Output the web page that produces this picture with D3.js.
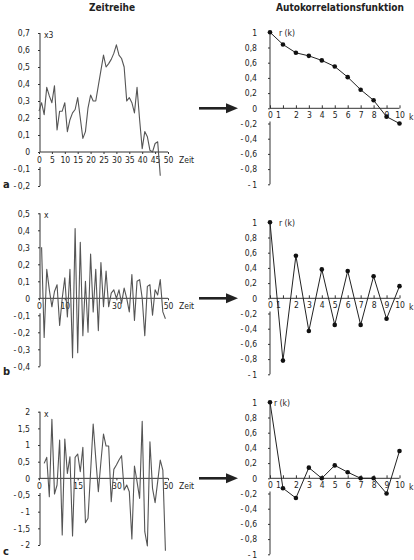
<!DOCTYPE html>
<html>
<head>
<meta charset="UTF-8">
<style>
  body { margin: 0; background: #fff; }
  svg text { font-family: "Liberation Sans Narrow", "DejaVu Sans Condensed", "Open Sans", sans-serif; fill: #222; }
</style>
</head>
<body>
<svg width="414" height="560"></svg>
<script src="https://d3js.org/d3.v7.min.js"></script>
<script>
// time series values
const seriesA = [0.24, 0.29, 0.22, 0.38, 0.33, 0.29, 0.39, 0.13, 0.24, 0.24,
  0.29, 0.12, 0.19, 0.23, 0.25, 0.32, 0.20, 0.08, 0.12, 0.26,
  0.335, 0.30, 0.30, 0.39, 0.48, 0.57, 0.50, 0.52, 0.545, 0.58,
  0.63, 0.57, 0.55, 0.50, 0.30, 0.32, 0.29, 0.23, 0.38, 0.19,
  0.02, 0.12, 0.09, 0.01, 0.00, 0.05, 0.06, -0.14];
const startA = 0;

const seriesB = [0.30, -0.23, 0.17, 0.05, -0.05, 0.04, 0.08, -0.16, 0.0, 0.12,
  -0.11, 0.17, -0.35, 0.41, -0.32, 0.33, -0.22, 0.10, -0.20, 0.26,
  -0.08, 0.17, -0.19, 0.21, -0.05, 0.16, -0.05, 0.03, 0.05, 0.0,
  0.05, -0.03, 0.06, 0.0, -0.08, 0.14, -0.13, 0.10, 0.11, 0.0,
  -0.22, 0.07, 0.08, -0.10, 0.05, 0.02, 0.11, -0.08, -0.12];
const startB = 1;

const seriesC = [0.45, 0.63, -0.55, 1.77, -0.47, -0.2, 1.15, -1.7, 1.18, 0.15,
  0.65, -1.73, 0.63, 0.73, 0.2, 0.93, -1.33, -1.2, 0.2, 1.63,
  0.6, -0.4, 0.5, 1.33, 0.97, 0.97, -0.7, 0.27, 0.4, 0.55,
  0.68, -0.35, -0.2, -0.4, -1.82, 0.37, -0.1, -0.6, 1.71, -1.6,
  -2.03, 1.1, -0.3, -0.73, -0.1, 0.55, 0.25, -2.17];
const startC = 2;

// autocorrelation r(k), k = 0..10
const lags = [0, 1, 2, 3, 4, 5, 6, 7, 8, 9, 10];
const acfA = [1, 0.84, 0.73, 0.69, 0.63, 0.55, 0.41, 0.245, 0.105, -0.11, -0.2];
const acfB = [1, -0.82, 0.56, -0.43, 0.38, -0.35, 0.36, -0.35, 0.29, -0.27, 0.16];
const acfC = [1, -0.13, -0.26, 0.14, 0, 0.17, 0.08, 0, 0, -0.2, 0.36];

// tick labels
const yTicksA = [-0.2, -0.1, 0, 0.1, 0.2, 0.3, 0.4, 0.5, 0.6, 0.7];
const yTicksB = [-0.4, -0.3, -0.2, -0.1, 0, 0.1, 0.2, 0.3, 0.4, 0.5];
const yTicksC = [-2, -1.5, -1, -0.5, 0, 0.5, 1, 1.5, 2];
const xTicksA = [0, 5, 10, 15, 20, 25, 30, 35, 40, 45, 50];
const xTicksB = [0, 10, 30, 50];
const xTicksC = [0, 15, 30, 50];
const acfTicks = [-1, -0.8, -0.6, -0.4, -0.2, 0, 0.2, 0.4, 0.6, 0.8, 1];

const svg = d3.select("svg");

const fmt = d => {
  let s = String(Math.round(Math.abs(d) * 10) / 10).replace(".", ",");
  return d < 0 ? "-\u2009" + s : s;
};

function styleAxis(a) {
  a.attr("font-family", null).attr("font-size", 8.5);
  a.selectAll("line").attr("stroke", "#333");
  a.select(".domain").remove();
}

function brokenY(g, x0, y, top, bottom, firstNeg) {
  g.append("line").attr("x1", x0).attr("x2", x0)
    .attr("y1", y(top)).attr("y2", y(0))
    .attr("stroke", "#333");
  g.append("line").attr("x1", x0).attr("x2", x0)
    .attr("y1", y(firstNeg) - 2).attr("y2", y(bottom))
    .attr("stroke", "#333");
}

function timePanel(values, start, dom, yTop, yBot, yTicks, xTicks, yLab) {
  const x = d3.scaleLinear().domain([0, 50]).range([39, 168]);
  const y = d3.scaleLinear().domain(dom).range([yBot, yTop]);
  const g = svg.append("g");

  g.append("g").attr("transform", "translate(40,0)")
    .call(d3.axisLeft(y).tickValues(yTicks).tickSize(2).tickPadding(8).tickFormat(fmt))
    .call(styleAxis);
  brokenY(g, 40, y, dom[1], dom[0], yTicks.filter(d => d < 0).slice(-1)[0]);

  g.append("g").attr("transform", "translate(0," + y(0) + ")")
    .call(d3.axisBottom(x).tickValues(xTicks).tickSize(2).tickPadding(3).tickFormat(d3.format("d")))
    .call(styleAxis);
  g.append("line").attr("x1", 40).attr("x2", x(50))
    .attr("y1", y(0)).attr("y2", y(0)).attr("stroke", "#333");

  g.append("path")
    .datum(values)
    .attr("fill", "none")
    .attr("stroke", "#555")
    .attr("stroke-width", 1.1)
    .attr("stroke-linejoin", "round")
    .attr("d", d3.line().x((d, i) => x(start + i)).y(d => y(d)));

  g.append("text").attr("x", 179).attr("y", y(0) + 11).attr("font-size", 8.5).text("Zeit");
  g.append("text").attr("x", 44).attr("y", yTop + 5).attr("font-size", 8.5).text(yLab);
}

function acfPanel(values, yTop, yBot, rx) {
  const x = d3.scaleLinear().domain([0, 10]).range([270, 399.5]);
  const y = d3.scaleLinear().domain([-1, 1]).range([yBot, yTop]);
  const g = svg.append("g");

  g.append("g").attr("transform", "translate(270,0)")
    .call(d3.axisLeft(y).tickValues(acfTicks).tickSize(2).tickPadding(11).tickFormat(fmt))
    .call(styleAxis);
  brokenY(g, 270, y, 1, -1, -0.2);

  g.append("g").attr("transform", "translate(0," + y(0) + ")")
    .call(d3.axisBottom(x).tickValues(lags).tickSizeInner(-3).tickSizeOuter(0).tickPadding(4))
    .call(styleAxis)
    .call(a => a.selectAll(".tick text").filter(d => d === 1).attr("dx", -5));
  g.append("line").attr("x1", 270).attr("x2", x(10))
    .attr("y1", y(0)).attr("y2", y(0)).attr("stroke", "#333");

  g.append("path")
    .datum(values)
    .attr("fill", "none")
    .attr("stroke", "#222")
    .attr("stroke-width", 1)
    .attr("d", d3.line().x((d, i) => x(lags[i])).y(d => y(d)));

  g.selectAll("circle").data(values).join("circle")
    .attr("cx", (d, i) => x(lags[i]))
    .attr("cy", d => y(d))
    .attr("r", 2.3)
    .attr("fill", "#111");

  g.append("text").attr("x", rx).attr("y", yTop + 4).attr("font-size", 8.5).text("r (k)");
  g.append("text").attr("x", 409).attr("y", y(0) + 12).attr("font-size", 8.5).text("k");

  // arrow from the time series to its ACF
  const ay = y(0);
  g.append("line").attr("x1", 199).attr("x2", 228).attr("y1", ay).attr("y2", ay)
    .attr("stroke", "#222").attr("stroke-width", 2.6);
  g.append("path")
    .attr("d", "M226," + (ay - 5) + "L238," + ay + "L226," + (ay + 5) + "Z")
    .attr("fill", "#222");
}

// titles
svg.append("text").attr("x", 112).attr("y", 11).attr("text-anchor", "middle")
  .attr("font-size", 10).attr("font-weight", "bold").text("Zeitreihe");
svg.append("text").attr("x", 340).attr("y", 11).attr("text-anchor", "middle")
  .attr("font-size", 10).attr("font-weight", "bold").text("Autokorrelationsfunktion");

timePanel(seriesA, startA, [-0.2, 0.7], 33, 186, yTicksA, xTicksA, "x3");
timePanel(seriesB, startB, [-0.4, 0.5], 213.3, 366.3, yTicksB, xTicksB, "x");
timePanel(seriesC, startC, [-2, 2], 411.7, 545, yTicksC, xTicksC, "x");

acfPanel(acfA, 32.3, 184.3, 279);
acfPanel(acfB, 222.3, 374.3, 279);
acfPanel(acfC, 402.3, 554.3, 274);

// panel letters
[["a", 188], ["b", 375], ["c", 555]].forEach(([t, yy]) => {
  svg.append("text").attr("x", 3).attr("y", yy)
    .attr("font-size", 11).attr("font-weight", "bold").text(t);
});
</script>
</body>
</html>
